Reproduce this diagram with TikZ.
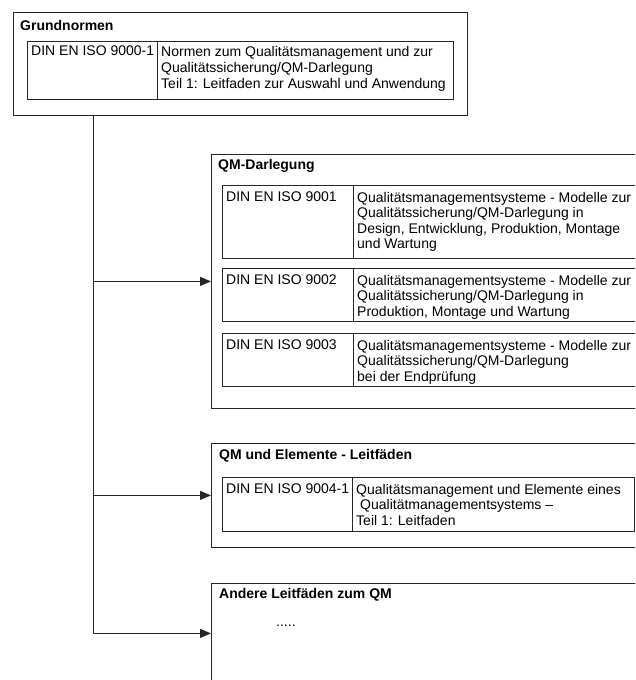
\documentclass[tikz,border=0pt]{standalone}
\usepackage{fontspec}
\setmainfont{Liberation Sans}
\usetikzlibrary{arrows.meta}
\begin{document}
\begin{tikzpicture}[x=1pt,y=-1pt,
  box/.style={draw=black!85, line width=0.8pt, rectangle, inner sep=0pt, anchor=north west},
  txt/.style={anchor=north west, inner sep=0pt, align=left, font=\fontsize{14}{15.5}\selectfont},
  gtxt/.style={txt, font=\fontsize{14}{16.3}\selectfont},
  ttl/.style={anchor=west, inner sep=0pt, font=\fontsize{14}{15}\selectfont\bfseries},
  divider/.style={draw=black!85, line width=0.8pt},
  conn/.style={draw=black!85, line width=0.8pt, -{Triangle[length=11pt,width=9pt]}},
]
\useasboundingbox (0,0) rectangle (635,680);
\clip (0,0) rectangle (635,680);
% Grundnormen
\node[box, minimum width=454pt, minimum height=103pt] (g) at (13,12) {};
\node[ttl] (gt) at (20,25) {Grundnormen};
\node[box, minimum width=426pt, minimum height=58pt] (g1) at (27,41) {};
\draw[divider] (g1.north west -| 157,0) -- (g1.south west -| 157,0);
\node[gtxt] (g1a) at (31,46) {DIN EN ISO 9000-1};
\node[gtxt] (g1b) at (161,46) {Normen zum Qualitätsmanagement und zur\\Qualitätssicherung/QM-Darlegung\\Teil 1: Leitfaden zur Auswahl und Anwendung};
% QM-Darlegung
\node[box, minimum width=440pt, minimum height=254pt] (qm) at (211,154) {};
\node[ttl] (qmt) at (218,166) {QM-Darlegung};
\node[box, minimum width=430pt, minimum height=73pt] (q1) at (222,185) {};
\draw[divider] (q1.north west -| 353,0) -- (q1.south west -| 353,0);
\node[txt] (q1a) at (226,192) {DIN EN ISO 9001};
\node[txt] (q1b) at (357,192) {Qualitätsmanagementsysteme - Modelle zur\\Qualitätssicherung/QM-Darlegung in\\Design, Entwicklung, Produktion, Montage\\und Wartung};
\node[box, minimum width=430pt, minimum height=53pt] (q2) at (222,268) {};
\draw[divider] (q2.north west -| 353,0) -- (q2.south west -| 353,0);
\node[txt] (q2a) at (226,275) {DIN EN ISO 9002};
\node[txt] (q2b) at (357,275) {Qualitätsmanagementsysteme - Modelle zur\\Qualitätssicherung/QM-Darlegung in\\Produktion, Montage und Wartung};
\node[box, minimum width=430pt, minimum height=53pt] (q3) at (222,333) {};
\draw[divider] (q3.north west -| 353,0) -- (q3.south west -| 353,0);
\node[txt] (q3a) at (226,340) {DIN EN ISO 9003};
\node[txt] (q3b) at (357,340) {Qualitätsmanagementsysteme - Modelle zur\\Qualitätssicherung/QM-Darlegung\\bei der Endprüfung};
% QM und Elemente
\node[box, minimum width=440pt, minimum height=104pt] (qe) at (211,443) {};
\node[ttl] (qet) at (219,456) {QM und Elemente - Leitfäden};
\node[box, minimum width=412pt, minimum height=54pt] (qe1) at (222,477) {};
\draw[divider] (qe1.north west -| 352,0) -- (qe1.south west -| 352,0);
\node[txt] (qe1a) at (226,484) {DIN EN ISO 9004-1};
\node[txt] (qe1b) at (356,484) {Qualitätsmanagement und Elemente eines\\\hspace*{4pt}Qualitätmanagementsystems --\\Teil 1: Leitfaden};
% Andere
\node[box, minimum width=440pt, minimum height=100pt] (an) at (211,583) {};
\node[ttl] (ant) at (219,595) {Andere Leitfäden zum QM};
\node[anchor=west, inner sep=0pt, font=\fontsize{14}{15}\selectfont] (dots) at (276,626) {.....};
% connectors
\coordinate (top) at ([xshift=80pt]g.south west);
\draw[conn] (top) |- (qm.west);
\draw[conn] (top) |- (qe.west);
\draw[conn] (top) |- (an.west);
\end{tikzpicture}
\end{document}
